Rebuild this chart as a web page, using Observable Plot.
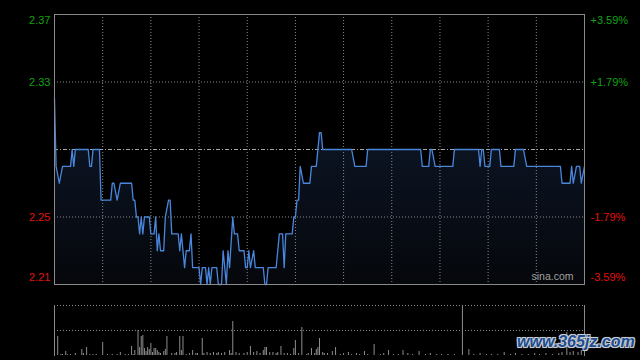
<!DOCTYPE html>
<html>
<head>
<meta charset="utf-8">
<script src="https://cdn.jsdelivr.net/npm/d3@7"></script>
<script src="https://cdn.jsdelivr.net/npm/@observablehq/plot@0.6"></script>
<style>
  html, body { margin: 0; padding: 0; background: #000; }
  #wrap { position: relative; width: 640px; height: 360px; overflow: hidden; background: #000; }
  #wrap svg { display: block; }
  #wm { position: absolute; left: 517px; top: 333px; font: italic bold 16px "Liberation Sans", Arial, sans-serif;
        color: #1d4d8e; letter-spacing: 0px;
        text-shadow: -1px -1px 0 #c8ccd4, 1px -1px 0 #c8ccd4, -1px 1px 0 #c8ccd4, 1px 1px 0 #c8ccd4, 0 0 2px #fff; }
</style>
</head>
<body>
<div id="wrap"><div id="wm">www.365jz.com</div></div>
<script>
// ---- data (minutes after open, 0..330) ----
const minutes = [0,1,3,5,10,11,12,13,21,22,23,24,28,29,35,36,37,39,41,48,49,50,51,52,53,54,55,56,59,60,62,63,64,65,66,68,69,71,72,73,77,78,79,81,82,84,85,86,90,91,92,94,95,96,97,98,101,102,104,105,107,108,109,111,112,114,115,118,119,120,121,122,124,125,130,131,132,133,138,139,140,142,143,144,148,149,150,151,152,153,155,159,160,163,165,166,167,185,187,194,195,228,229,233,234,235,237,248,249,264,265,266,267,268,271,272,277,278,286,287,292,294,315,316,321,322,323,325,327,328,330];
const prices = [2.32,2.28,2.27,2.28,2.28,2.29,2.28,2.29,2.29,2.28,2.28,2.29,2.29,2.26,2.26,2.27,2.27,2.26,2.27,2.27,2.26,2.26,2.25,2.25,2.24,2.25,2.24,2.25,2.25,2.24,2.24,2.25,2.23,2.24,2.23,2.23,2.25,2.26,2.26,2.24,2.24,2.23,2.24,2.22,2.23,2.23,2.24,2.22,2.22,2.21,2.22,2.22,2.21,2.22,2.21,2.22,2.22,2.21,2.21,2.23,2.21,2.23,2.22,2.25,2.24,2.24,2.23,2.23,2.22,2.22,2.23,2.22,2.23,2.22,2.22,2.21,2.21,2.22,2.22,2.23,2.24,2.24,2.22,2.24,2.24,2.25,2.25,2.26,2.26,2.28,2.27,2.27,2.28,2.28,2.30,2.30,2.29,2.29,2.28,2.28,2.29,2.29,2.28,2.28,2.29,2.29,2.28,2.28,2.29,2.29,2.28,2.29,2.29,2.28,2.28,2.29,2.29,2.28,2.28,2.29,2.29,2.28,2.28,2.27,2.27,2.28,2.27,2.28,2.28,2.27,2.28];

const volMinutes = [0,2,4,5,7,8,10,13,17,18,20,22,24,26,30,33,36,39,41,44,46,48,49,50,52,53,54,55,56,57,58,59,60,61,62,63,64,65,66,68,69,70,73,75,76,78,79,80,82,84,86,88,89,92,93,95,97,99,101,102,104,106,109,110,111,113,115,118,120,122,124,126,128,130,131,132,134,136,138,139,141,143,145,147,149,150,152,154,157,158,160,162,163,164,165,167,168,170,173,175,178,180,183,185,188,190,193,195,199,203,205,208,211,214,217,220,223,227,231,234,238,241,245,249,254,258,261,265,269,272,276,280,284,287,291,295,299,302,306,310,314,316,319,321,323,326,328,330];
const volumes = [6,19,1,1,4,1,1,2,6,2,8,1,1,1,13,1,1,1,3,1,1,9,1,5,25,8,19,20,7,4,8,6,12,3,7,7,5,3,2,4,6,19,2,2,3,19,5,19,1,2,5,2,2,17,2,3,2,3,2,3,2,3,5,2,34,3,2,2,3,9,3,4,2,5,8,8,3,3,2,3,9,2,2,1,7,15,2,28,1,2,7,2,6,8,17,3,2,2,4,8,1,2,3,1,2,1,4,1,11,1,2,5,1,1,5,2,1,4,1,2,1,1,1,1,50,6,1,2,1,1,1,3,1,2,1,1,2,1,2,1,2,3,23,3,4,3,5,10];

const gridMinutes = [30,60,90,120,150,180,210,240,270,300];
const labelPrices = [2.37, 2.33, 2.25, 2.21];
const leftLabels = ["2.37", "2.33", "2.25", "2.21"];
const rightLabels = ["+3.59%", "+1.79%", "-1.79%", "-3.59%"];
const prevClose = 2.29;
const volGrid = [25, 50];
const brand = "sina.com";

// ---- build tables ----
const series = minutes.map((t, i) => ({t, p: prices[i]}));
const vol = volMinutes.map((t, i) => ({t, v: volumes[i]}));
const labels = labelPrices.map((v, i) => ({v, l: leftLabels[i], r: rightLabels[i], i}));
const GREEN = "#14a014", RED = "#e01212";
const col = d => d.v > prevClose ? GREEN : RED;
const font = '"Liberation Sans", Arial, sans-serif';

const sideLabels = (filter, dy) => [
  Plot.text(labels, {filter, y: "v", text: "l", frameAnchor: "left", textAnchor: "end", dx: -4, dy, fill: col, fontSize: 11}),
  Plot.text(labels, {filter, y: "v", text: "r", frameAnchor: "right", textAnchor: "start", dx: 6, dy, fill: col, fontSize: 11})
];

const priceChart = Plot.plot({
  width: 640, height: 290,
  marginLeft: 54, marginRight: 56, marginTop: 14, marginBottom: 6,
  style: {background: "transparent", fontFamily: font, fontSize: "11px", overflow: "visible"},
  x: {domain: [0, 330], axis: null},
  y: {domain: [2.21, 2.37], axis: null},
  marks: [
    Plot.areaY(series, {x: "t", y1: 2.21, y2: "p", fill: "url(#pgrad)"}),
    Plot.ruleY([2.33, 2.25], {stroke: "#8a8a8a", strokeDasharray: "1,2"}),
    Plot.ruleX(gridMinutes, {stroke: "#8a8a8a", strokeDasharray: "1,2"}),
    Plot.ruleY([prevClose], {stroke: "#a8a8a8", strokeDasharray: "4,2,1,2"}),
    Plot.lineY(series, {x: "t", y: "p", stroke: "#4a86dc", strokeWidth: 1.3}),
    Plot.frame({stroke: "#8a8a8a"}),
    ...sideLabels(d => d.i === 0, 6),
    ...sideLabels(d => d.i === 1 || d.i === 2, 0),
    ...sideLabels(d => d.i === 3, -7),
    Plot.text([brand], {text: d => d, frameAnchor: "bottom-right", textAnchor: "end", dx: -11, dy: -5, fill: "#a0a0a0", fontSize: 10.5})
  ]
});

const svgSel = d3.select(priceChart);
const defs = svgSel.insert("defs", ":first-child");
const g = defs.append("linearGradient").attr("id", "pgrad")
  .attr("gradientUnits", "userSpaceOnUse").attr("x1", 0).attr("x2", 0).attr("y1", 100).attr("y2", 284);
g.append("stop").attr("offset", "0%").attr("stop-color", "#0e182a");
g.append("stop").attr("offset", "100%").attr("stop-color", "#05070b");

const volChart = Plot.plot({
  width: 640, height: 70,
  marginLeft: 54, marginRight: 56, marginTop: 15, marginBottom: 5,
  style: {background: "transparent", fontFamily: font, overflow: "visible"},
  x: {domain: [0, 330], axis: null},
  y: {domain: [0, 50], axis: null},
  marks: [
    Plot.ruleY(volGrid, {stroke: "#8a8a8a", strokeDasharray: "1,2"}),
    Plot.ruleX(vol, {x: "t", y1: 0, y2: "v", stroke: "#8c8c8c"}),
    Plot.frame({anchor: "left", stroke: "#8a8a8a"}),
    Plot.frame({anchor: "right", stroke: "#8a8a8a"})
  ]
});

const wrap = document.getElementById("wrap");
const wm = document.getElementById("wm");
wrap.insertBefore(priceChart, wm);
wrap.insertBefore(volChart, wm);
</script>
</body>
</html>
